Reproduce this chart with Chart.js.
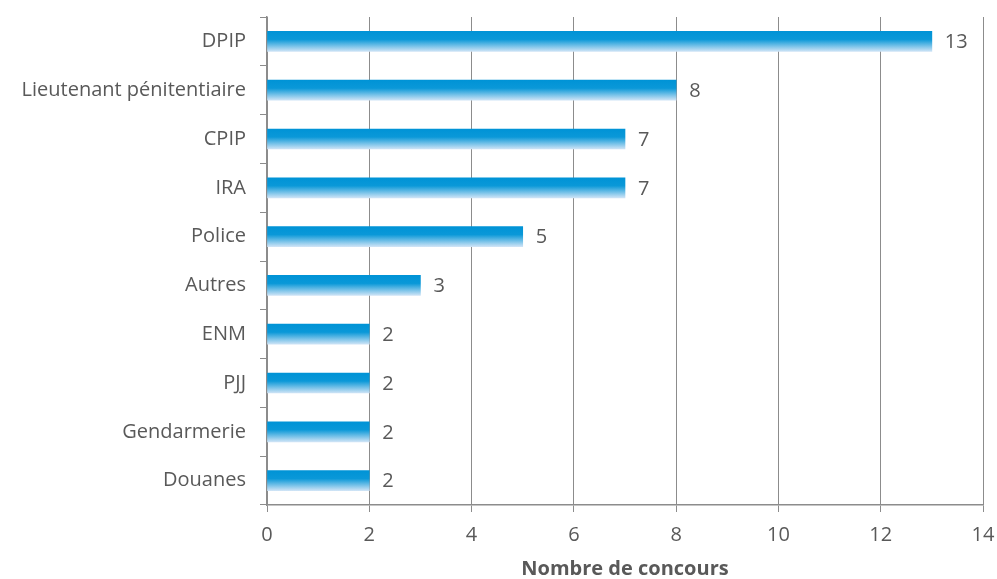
<!DOCTYPE html>
<html>
<head>
<meta charset="utf-8">
<script src="https://cdn.jsdelivr.net/npm/chart.js@4.4.1/dist/chart.umd.min.js"></script>
<style>
  html, body { margin: 0; padding: 0; background: #fff; }
  #wrap { width: 997px; height: 579px; position: relative; }
</style>
</head>
<body>
<div id="wrap"><canvas id="chart"></canvas></div>
<script>
// ====== Données ======
const categories = ['DPIP', 'Lieutenant pénitentiaire', 'CPIP', 'IRA', 'Police', 'Autres', 'ENM', 'PJJ', 'Gendarmerie', 'Douanes'];
const nbConcours = [13, 8, 7, 7, 5, 3, 2, 2, 2, 2];
const xTicks = [0, 2, 4, 6, 8, 10, 12, 14];
const axisTitle = 'Nombre de concours';

const FONT = '"Open Sans", sans-serif';
const TXT = '#595959';
const LINE = '#8c8c8c';
const BAR_H = 20;

// Dégradé vertical par barre (bleu en haut, pâle en bas)
function barGradient(ctx) {
  const chart = ctx.chart;
  const yScale = chart.scales.y;
  if (!chart.chartArea || !yScale || ctx.dataIndex === undefined) return '#0095d9';
  const yc = yScale.getPixelForValue(ctx.dataIndex);
  if (!Number.isFinite(yc)) return '#0095d9';
  const g = chart.ctx.createLinearGradient(0, yc - BAR_H / 2, 0, yc + BAR_H / 2);
  g.addColorStop(0, '#0093d6');
  g.addColorStop(0.4, '#0a98d8');
  g.addColorStop(1, '#cde3f6');
  return g;
}

// Étiquettes de valeur à droite des barres
const valueLabels = {
  id: 'valueLabels',
  afterDatasetsDraw(chart) {
    const c = chart.ctx;
    const meta = chart.getDatasetMeta(0);
    c.save();
    c.font = '20px ' + FONT;
    c.fillStyle = TXT;
    c.textAlign = 'left';
    c.textBaseline = 'middle';
    meta.data.forEach((bar, i) => {
      c.fillText(String(nbConcours[i]), bar.x + 13, bar.y + 1);
    });
    c.restore();
  }
};

new Chart(document.getElementById('chart'), {
  type: 'bar',
  data: {
    labels: categories,
    datasets: [{
      data: nbConcours,
      backgroundColor: barGradient,
      borderWidth: 0,
      barThickness: BAR_H
    }]
  },
  options: {
    indexAxis: 'y',
    responsive: true,
    maintainAspectRatio: false,
    animation: false,
    layout: { padding: { top: 17, right: 14, left: 0, bottom: 0 } },
    plugins: { legend: { display: false }, tooltip: { enabled: false } },
    scales: {
      x: {
        min: 0,
        max: 14,
        afterBuildTicks: (s) => { s.ticks = xTicks.map(v => ({ value: v })); },
        afterFit: (s) => { s.height = 74; s.paddingLeft = 0; s.paddingRight = 0; },
        grid: { color: LINE, lineWidth: 1, tickLength: 7, drawTicks: true },
        border: { color: LINE, width: 1.5 },
        ticks: { color: TXT, font: { family: FONT, size: 20 }, padding: 11 },
        title: {
          display: true,
          text: axisTitle,
          color: TXT,
          font: { family: FONT, size: 20, weight: 'bold', lineHeight: 1 },
          padding: { top: 4, bottom: 0 }
        }
      },
      y: {
        afterFit: (s) => { s.width = 267; s.paddingTop = 0; s.paddingBottom = 0; },
        grid: { offset: true, drawOnChartArea: false, color: LINE, tickLength: 7 },
        border: { color: LINE, width: 1.5 },
        ticks: { color: TXT, font: { family: FONT, size: 20 }, padding: 14 }
      }
    }
  },
  plugins: [valueLabels]
});
</script>
</body>
</html>
